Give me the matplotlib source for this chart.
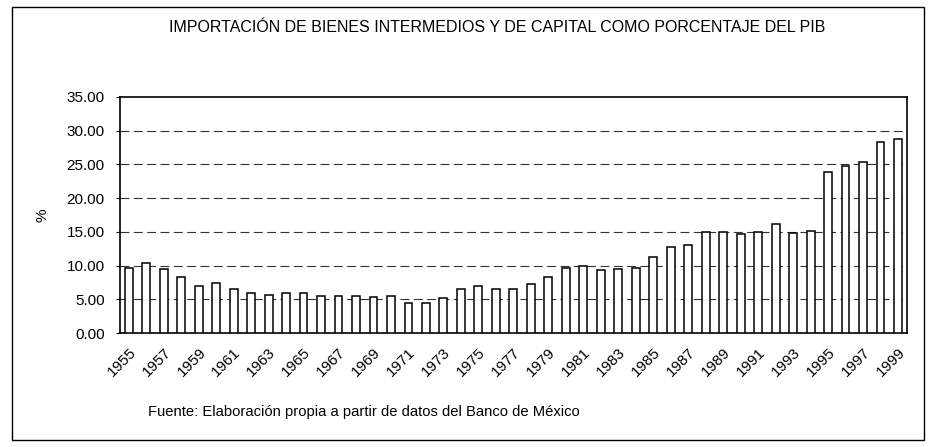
import matplotlib
matplotlib.use('Agg')
import matplotlib.pyplot as plt
import numpy as np
from matplotlib.patches import Rectangle

years = list(range(1955, 2000))
pct = [9.6, 10.4, 9.5, 8.3, 7.0, 7.4, 6.5, 6.0, 5.6, 5.9,
       5.9, 5.5, 5.5, 5.5, 5.3, 5.5, 4.5, 4.5, 5.2, 6.5,
       7.0, 6.5, 6.5, 7.3, 8.3, 9.7, 10.0, 9.3, 9.5, 9.6,
       11.3, 12.8, 13.1, 15.0, 15.0, 14.7, 15.0, 16.2, 14.8, 15.2,
       23.9, 24.8, 25.4, 28.3, 28.8]
yticks = [0, 5, 10, 15, 20, 25, 30, 35]
ytick_labels = ['0.00', '5.00', '10.00', '15.00', '20.00', '25.00', '30.00', '35.00']

titulo = 'IMPORTACIÓN DE BIENES INTERMEDIOS Y DE CAPITAL COMO PORCENTAJE DEL PIB'
fuente = 'Fuente: Elaboración propia a partir de datos del Banco de México'

plt.rcParams['font.family'] = ['Liberation Sans', 'DejaVu Sans']

fig = plt.figure(figsize=(9.3, 4.47), dpi=100)
ax = fig.add_axes([0.129, 0.255, 0.846, 0.528])

# marco exterior del grafico
fig.patches.append(Rectangle((12 / 930, 1 - 440 / 447), 912 / 930, 433 / 447,
                             transform=fig.transFigure, fill=False,
                             edgecolor='black', linewidth=1.0))

x = np.arange(len(years))
ax.bar(x, pct, width=0.45, color='white', edgecolor='black', linewidth=1.1, zorder=3)

ax.set_xlim(-0.5, len(years) - 0.5)
ax.set_ylim(0, 35)
ax.set_yticks(yticks)
ax.set_yticklabels(ytick_labels, fontsize=11)
ax.set_xticks(x[::2])
ax.set_xticklabels([str(y) for y in years[::2]], rotation=45, ha='right',
                   rotation_mode='anchor', fontsize=11)
ax.tick_params(axis='x', length=0, pad=9)
ax.tick_params(axis='y', length=3, direction='out', pad=8)

for v in yticks[1:-1]:
    ax.axhline(v, color='#333333', linewidth=0.8, linestyle=(0, (8, 4)), zorder=1)

for s in ax.spines.values():
    s.set_linewidth(1.2)

ax.set_ylabel('%', fontsize=11, labelpad=12)

fig.text(0.535, 1 - 27 / 447, titulo, ha='center', va='center', fontsize=11.5)
fig.text(148 / 930, 1 - 412 / 447, fuente, ha='left', va='center', fontsize=10.6)

fig.savefig('out.png', dpi=100)
